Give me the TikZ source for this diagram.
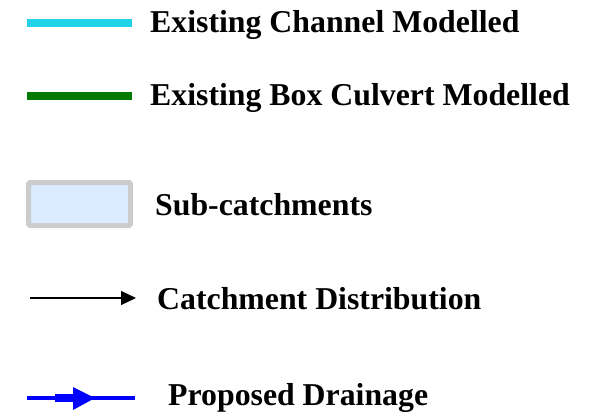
\documentclass[tikz,border=0pt]{standalone}
\usepackage{fontspec}
\setmainfont{Liberation Serif}
\usetikzlibrary{arrows.meta}
\definecolor{chancyan}{HTML}{22D3E8}
\definecolor{culvgreen}{HTML}{007A00}
\definecolor{subfill}{HTML}{DCEBFF}
\definecolor{subedge}{HTML}{CCCCCC}
\tikzset{
  lbl/.style={anchor=base west, inner sep=0pt, font=\fontsize{31.8}{36}\selectfont\bfseries},
}
\begin{document}
\begin{tikzpicture}[x=1pt,y=-1pt]
\useasboundingbox (0,0) rectangle (605,417);
% Existing channel
\coordinate (c1a) at (27,23);
\coordinate (c1b) at (132,23);
\draw[chancyan, line width=8pt] (c1a) -- (c1b);
\node[lbl] (t1) at (150,33) {Existing Channel Modelled};
% Existing box culvert
\coordinate (c2a) at (27,96);
\coordinate (c2b) at (132,96);
\draw[culvgreen, line width=8pt] (c2a) -- (c2b);
\node[lbl] (t2) at (150,106) {Existing Box Culvert Modelled};
% Sub-catchments
\node[draw=subedge, fill=subfill, line width=5pt, rounded corners=1.5pt, minimum width=102pt, minimum height=43pt, inner sep=0pt] (box) at (79.5,204) {};
\node[lbl] (t3) at (155,215) {Sub-catchments};
% Catchment distribution
\coordinate (c4a) at (30,298);
\coordinate (c4b) at (136,298);
\draw[black, line width=1.3pt, -{Triangle[length=15pt,width=14pt]}] (c4a) -- (c4b);
\node[lbl] (t4) at (157,309) {Catchment Distribution};
% Proposed drainage
\coordinate (c5a) at (27,398);
\coordinate (c5b) at (135,398);
\coordinate (c5m1) at (55,398);
\coordinate (c5m2) at (76,398);
\coordinate (c5tip) at (95,398);
\draw[blue, line width=4pt] (c5a) -- (c5b);
\draw[blue, line width=8pt] (c5m1) -- (c5m2);
\fill[blue] (73,387) -- (c5tip) -- (73,410) -- cycle;
\node[lbl] (t5) at (168,405) {Proposed Drainage};
\end{tikzpicture}
\end{document}
